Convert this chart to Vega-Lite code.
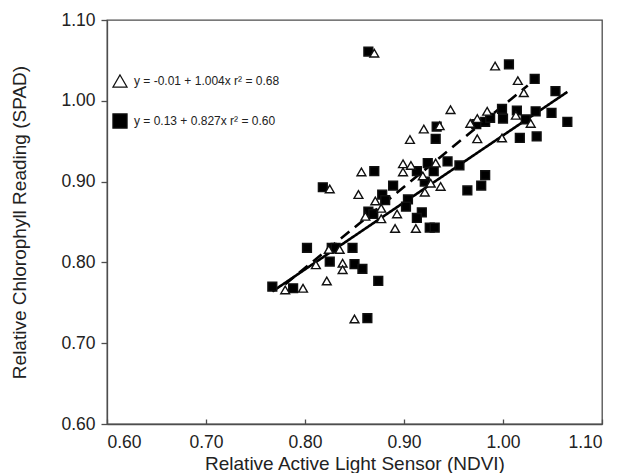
{
  "$schema": "https://vega.github.io/schema/vega-lite/v6.json",
  "width": 495,
  "height": 404,
  "autosize": {"type": "none"},
  "padding": {"left": 107, "top": 20, "right": 23, "bottom": 49},
  "background": "white",
  "config": {
    "font": "Liberation Sans",
    "view": {"stroke": "#4d4d4d", "strokeWidth": 1.3},
    "axis": {
      "grid": false,
      "domainColor": "#4d4d4d",
      "domainWidth": 1.3,
      "tickColor": "#4d4d4d",
      "tickWidth": 1.3,
      "labelColor": "#222",
      "titleColor": "#222",
      "labelFont": "Liberation Sans",
      "titleFont": "Liberation Sans",
      "labelFontSize": 17.5,
      "titleFontSize": 19,
      "titleFontWeight": "normal"
    },
    "legend": {
      "labelFont": "Liberation Sans",
      "labelFontSize": 12,
      "labelColor": "#222",
      "padding": 0
    }
  },
  "datasets": {
    "fits": [
      {"fit": "squares", "ndvi": 0.767, "spad": 0.764},
      {"fit": "squares", "ndvi": 1.065, "spad": 1.011},
      {"fit": "triangles", "ndvi": 0.780, "spad": 0.773},
      {"fit": "triangles", "ndvi": 1.025, "spad": 1.019}
    ],
    "pts": [
      {"series": "sq", "ndvi": 0.864, "spad": 1.061},
      {"series": "sq", "ndvi": 1.006, "spad": 1.045},
      {"series": "sq", "ndvi": 1.032, "spad": 1.027},
      {"series": "sq", "ndvi": 1.053, "spad": 1.012},
      {"series": "sq", "ndvi": 0.999, "spad": 0.990},
      {"series": "sq", "ndvi": 1.014, "spad": 0.988},
      {"series": "sq", "ndvi": 1.033, "spad": 0.987},
      {"series": "sq", "ndvi": 1.049, "spad": 0.985},
      {"series": "sq", "ndvi": 1.065, "spad": 0.974},
      {"series": "sq", "ndvi": 0.973, "spad": 0.971},
      {"series": "sq", "ndvi": 0.982, "spad": 0.974},
      {"series": "sq", "ndvi": 0.987, "spad": 0.979},
      {"series": "sq", "ndvi": 1.000, "spad": 0.978},
      {"series": "sq", "ndvi": 1.023, "spad": 0.977},
      {"series": "sq", "ndvi": 1.017, "spad": 0.954},
      {"series": "sq", "ndvi": 1.034, "spad": 0.956},
      {"series": "sq", "ndvi": 0.933, "spad": 0.968},
      {"series": "sq", "ndvi": 0.932, "spad": 0.953},
      {"series": "sq", "ndvi": 0.944, "spad": 0.925},
      {"series": "sq", "ndvi": 0.956, "spad": 0.920},
      {"series": "sq", "ndvi": 0.913, "spad": 0.913},
      {"series": "sq", "ndvi": 0.924, "spad": 0.923},
      {"series": "sq", "ndvi": 0.930, "spad": 0.913},
      {"series": "sq", "ndvi": 0.921, "spad": 0.900},
      {"series": "sq", "ndvi": 0.964, "spad": 0.889},
      {"series": "sq", "ndvi": 0.978, "spad": 0.895},
      {"series": "sq", "ndvi": 0.982, "spad": 0.908},
      {"series": "sq", "ndvi": 0.889, "spad": 0.895},
      {"series": "sq", "ndvi": 0.870, "spad": 0.913},
      {"series": "sq", "ndvi": 0.878, "spad": 0.884},
      {"series": "sq", "ndvi": 0.881, "spad": 0.877},
      {"series": "sq", "ndvi": 0.904, "spad": 0.878},
      {"series": "sq", "ndvi": 0.902, "spad": 0.869},
      {"series": "sq", "ndvi": 0.864, "spad": 0.863},
      {"series": "sq", "ndvi": 0.869, "spad": 0.860},
      {"series": "sq", "ndvi": 0.918, "spad": 0.862},
      {"series": "sq", "ndvi": 0.913, "spad": 0.855},
      {"series": "sq", "ndvi": 0.926, "spad": 0.843},
      {"series": "sq", "ndvi": 0.931, "spad": 0.843},
      {"series": "sq", "ndvi": 0.818, "spad": 0.893},
      {"series": "sq", "ndvi": 0.802, "spad": 0.818},
      {"series": "sq", "ndvi": 0.827, "spad": 0.818},
      {"series": "sq", "ndvi": 0.831, "spad": 0.818},
      {"series": "sq", "ndvi": 0.848, "spad": 0.818},
      {"series": "sq", "ndvi": 0.825, "spad": 0.801},
      {"series": "sq", "ndvi": 0.850, "spad": 0.798},
      {"series": "sq", "ndvi": 0.858, "spad": 0.792},
      {"series": "sq", "ndvi": 0.874, "spad": 0.777},
      {"series": "sq", "ndvi": 0.767, "spad": 0.770},
      {"series": "sq", "ndvi": 0.788, "spad": 0.768},
      {"series": "sq", "ndvi": 0.863, "spad": 0.731},
      {"series": "tri", "ndvi": 0.870, "spad": 1.059},
      {"series": "tri", "ndvi": 0.992, "spad": 1.043},
      {"series": "tri", "ndvi": 1.015, "spad": 1.025},
      {"series": "tri", "ndvi": 1.021, "spad": 1.010},
      {"series": "tri", "ndvi": 0.947, "spad": 0.989},
      {"series": "tri", "ndvi": 0.984, "spad": 0.987},
      {"series": "tri", "ndvi": 1.013, "spad": 0.982},
      {"series": "tri", "ndvi": 0.974, "spad": 0.978},
      {"series": "tri", "ndvi": 0.967, "spad": 0.972},
      {"series": "tri", "ndvi": 1.028, "spad": 0.972},
      {"series": "tri", "ndvi": 0.920, "spad": 0.965},
      {"series": "tri", "ndvi": 0.936, "spad": 0.969},
      {"series": "tri", "ndvi": 0.906, "spad": 0.952},
      {"series": "tri", "ndvi": 0.974, "spad": 0.953},
      {"series": "tri", "ndvi": 0.999, "spad": 0.954},
      {"series": "tri", "ndvi": 0.899, "spad": 0.922},
      {"series": "tri", "ndvi": 0.907, "spad": 0.920},
      {"series": "tri", "ndvi": 0.899, "spad": 0.912},
      {"series": "tri", "ndvi": 0.932, "spad": 0.923},
      {"series": "tri", "ndvi": 0.919, "spad": 0.907},
      {"series": "tri", "ndvi": 0.927, "spad": 0.898},
      {"series": "tri", "ndvi": 0.937, "spad": 0.894},
      {"series": "tri", "ndvi": 0.921, "spad": 0.887},
      {"series": "tri", "ndvi": 0.857, "spad": 0.912},
      {"series": "tri", "ndvi": 0.854, "spad": 0.884},
      {"series": "tri", "ndvi": 0.871, "spad": 0.876},
      {"series": "tri", "ndvi": 0.877, "spad": 0.867},
      {"series": "tri", "ndvi": 0.861, "spad": 0.857},
      {"series": "tri", "ndvi": 0.877, "spad": 0.854},
      {"series": "tri", "ndvi": 0.893, "spad": 0.860},
      {"series": "tri", "ndvi": 0.891, "spad": 0.842},
      {"series": "tri", "ndvi": 0.912, "spad": 0.842},
      {"series": "tri", "ndvi": 0.825, "spad": 0.891},
      {"series": "tri", "ndvi": 0.824, "spad": 0.816},
      {"series": "tri", "ndvi": 0.835, "spad": 0.816},
      {"series": "tri", "ndvi": 0.811, "spad": 0.797},
      {"series": "tri", "ndvi": 0.838, "spad": 0.799},
      {"series": "tri", "ndvi": 0.838, "spad": 0.791},
      {"series": "tri", "ndvi": 0.822, "spad": 0.777},
      {"series": "tri", "ndvi": 0.780, "spad": 0.766},
      {"series": "tri", "ndvi": 0.798, "spad": 0.768},
      {"series": "tri", "ndvi": 0.850, "spad": 0.730}
    ]
  },
  "layer": [
    {
      "data": {"name": "fits"},
      "mark": {"type": "line", "color": "#000", "strokeWidth": 2.6},
      "encoding": {
        "x": {
          "field": "ndvi", "type": "quantitative",
          "scale": {"domain": [0.6, 1.1], "nice": false, "zero": false},
          "axis": {
            "title": "Relative Active Light Sensor (NDVI)",
            "values": [0.6, 0.7, 0.8, 0.9, 1.0, 1.1],
            "format": ".2f",
            "tickSize": -5,
            "labelPadding": 14,
            "titleBaseline": "alphabetic",
            "titleY": 45
          }
        },
        "y": {
          "field": "spad", "type": "quantitative",
          "scale": {"domain": [0.6, 1.1], "nice": false, "zero": false},
          "axis": {
            "title": "Relative Chlorophyll Reading (SPAD)",
            "values": [0.6, 0.7, 0.8, 0.9, 1.0, 1.1],
            "format": ".2f",
            "tickSize": 6,
            "labelPadding": 6,
            "titlePadding": 31
          }
        },
        "strokeDash": {
          "field": "fit", "type": "nominal",
          "scale": {"domain": ["squares", "triangles"], "range": [[1, 0], [11, 7]]},
          "legend": null
        }
      }
    },
    {
      "data": {"name": "pts"},
      "mark": {"type": "point", "size": 78, "stroke": "#111", "strokeWidth": 1.4, "opacity": 1},
      "encoding": {
        "x": {"field": "ndvi", "type": "quantitative"},
        "y": {"field": "spad", "type": "quantitative"},
        "shape": {
          "field": "series", "type": "nominal",
          "scale": {"domain": ["tri", "sq"], "range": ["triangle-up", "square"]},
          "legend": {
            "title": null,
            "orient": "none",
            "legendX": 5,
            "legendY": 53,
            "symbolSize": 200,
            "symbolStrokeWidth": 1.2,
            "rowPadding": 21,
            "labelOffset": 6,
            "labelExpr": "datum.label == 'tri' ? 'y = -0.01 + 1.004x  r² = 0.68' : 'y = 0.13 + 0.827x  r² = 0.60'"
          }
        },
        "fill": {
          "field": "series", "type": "nominal",
          "scale": {"domain": ["tri", "sq"], "range": ["#ffffff", "#000000"]},
          "legend": {
            "title": null,
            "orient": "none",
            "legendX": 5,
            "legendY": 53,
            "symbolSize": 200,
            "symbolStrokeWidth": 1.2,
            "rowPadding": 21,
            "labelOffset": 6,
            "labelExpr": "datum.label == 'tri' ? 'y = -0.01 + 1.004x  r² = 0.68' : 'y = 0.13 + 0.827x  r² = 0.60'"
          }
        }
      }
    }
  ]
}
